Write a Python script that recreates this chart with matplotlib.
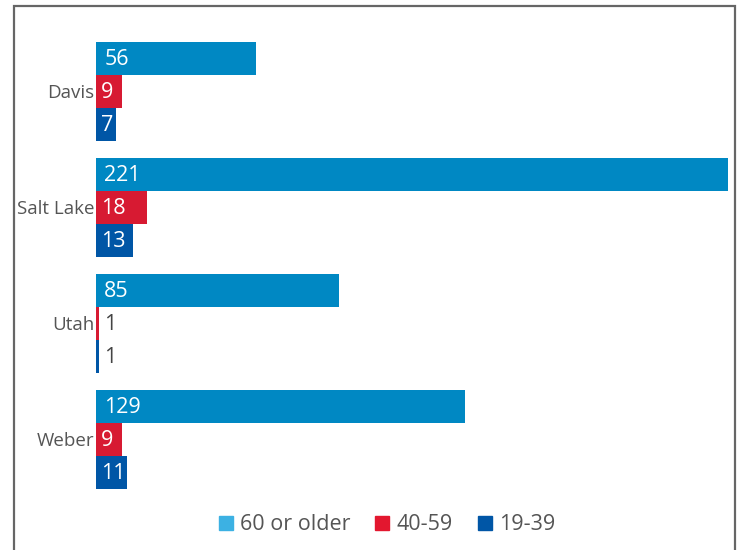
import matplotlib
matplotlib.use("Agg")
import matplotlib.pyplot as plt
from matplotlib.lines import Line2D
from matplotlib.patches import Rectangle
import numpy as np

categories = ["Davis", "Salt Lake", "Utah", "Weber"]
series_names = ["60 or older", "40-59", "19-39"]
v_60_older = [56, 221, 85, 129]
v_40_59 = [9, 18, 1, 9]
v_19_39 = [7, 13, 1, 11]

bar_colors = ["#0088c3", "#d71a32", "#0056a6"]
legend_colors = ["#3cb1e3", "#e3172f", "#0056a6"]

plt.rcParams['font.family'] = ['Open Sans', 'DejaVu Sans']

fig = plt.figure(figsize=(7.4, 5.5), dpi=100)
ax = fig.add_axes([96/740, (550-489)/550, (728-96)/740, (489-42)/550])

h = 33/116
y = np.arange(len(categories))
series = [v_60_older, v_40_59, v_19_39]
offsets = [-h, 0, h]
for vals, col, off in zip(series, bar_colors, offsets):
    bars = ax.barh(y + off, vals, height=h, color=col, edgecolor='none')
    for b, v in zip(bars, vals):
        cy = b.get_y() + b.get_height()/2
        if v <= 2:
            ax.annotate(str(v), (v, cy), xytext=(4, -1), textcoords='offset points',
                        ha='left', va='center', color='#444444', fontsize=15.5)
        else:
            dx = 6 if v >= 20 else 3.5
            ax.annotate(str(v), (0, cy), xytext=(dx, -1), textcoords='offset points',
                        ha='left', va='center', color='white', fontsize=15.5)

ax.set_xlim(0, 221)
ax.set_ylim(3 + 1.5*h, -1.5*h)
ax.set_yticks(y)
ax.set_yticklabels(categories, fontsize=13.5, color='#555555')
ax.tick_params(axis='y', length=0, pad=1)
ax.set_xticks([])
for s in ax.spines.values():
    s.set_visible(False)

handles = [Line2D([], [], marker='s', linestyle='none', markersize=10,
                  markerfacecolor=c, markeredgecolor=c) for c in legend_colors]
fig.legend(handles, series_names, loc='center', bbox_to_anchor=(385/740, 1 - 525/550),
           ncol=3, frameon=False, fontsize=15.5, handletextpad=0.15, columnspacing=1.0,
           handlelength=1.0, labelcolor='#555555')

fig.patches.append(Rectangle((13.5/740, -0.05), (735-13.5)/740, 1.05 - 6.5/550,
                             transform=fig.transFigure, fill=False,
                             edgecolor='#666666', linewidth=1.6, clip_on=False))

fig.savefig("out.png", dpi=100)
